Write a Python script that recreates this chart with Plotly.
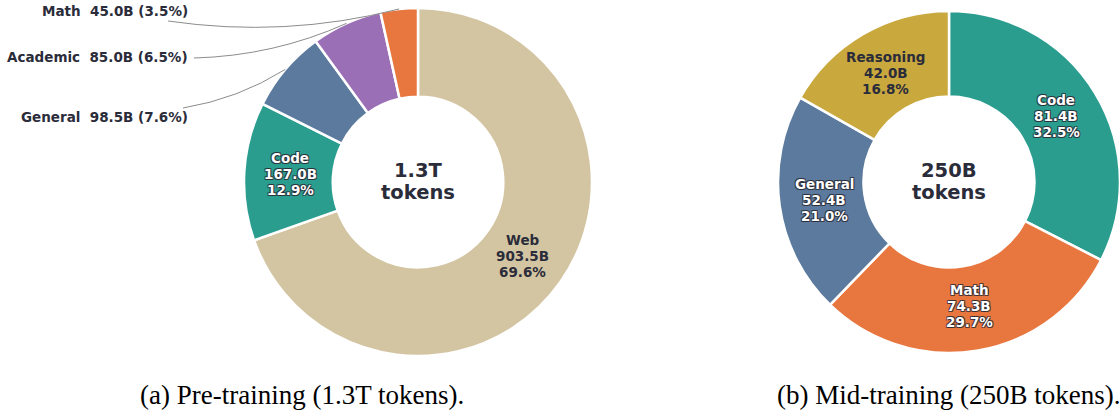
import math
import plotly.graph_objects as go

W, H = 1120, 412

# ---------------- data ----------------
pre_labels = ["Web", "Code", "General", "Academic", "Math"]
pre_values = [903.5, 167.0, 98.5, 85.0, 45.0]
pre_colors = ["#d3c4a2", "#2a9d8f", "#5b7a9d", "#9b6fb5", "#e8763f"]
pre_inside = [True, True, False, False, False]
pre_dark_text = [True, False, False, False, False]
pre_total = "1.3T"

mid_labels = ["Code", "Math", "General", "Reasoning"]
mid_values = [81.4, 74.3, 52.4, 42.0]
mid_colors = ["#2a9d8f", "#e8763f", "#5b7a9d", "#c9a83e"]
mid_inside = [True, True, True, True]
mid_dark_text = [False, False, False, True]
mid_total = "250B"

captions = ["(a) Pre-training (1.3T tokens).", "(b) Mid-training (250B tokens)."]

# ---------------- layout constants (pixels) ----------------
TXT = "#2b2c3a"
FONT = "DejaVu Sans"
OUTLINE = ("1px 1px 0 rgba(40,40,50,0.75), -1px -1px 0 rgba(40,40,50,0.75), "
           "1px -1px 0 rgba(40,40,50,0.75), -1px 1px 0 rgba(40,40,50,0.75)")

pre_center, pre_R = (418, 182), 174
mid_center, mid_R = (949, 182), 171
LABEL_R = 0.736      # inside label radius, fraction of outer radius
LINE_GAP = 16        # px between inside label lines


def domain(center, R):
    cx, cy = center
    return dict(x=[(cx - R) / W, min(1.0, (cx + R) / W)],
                y=[(H - cy - R) / H, (H - cy + R) / H])


def px(x, y):
    return x / W, 1 - y / H


fig = go.Figure()


def add_donut(labels, values, colors, inside, dark, total, center, R, hole):
    fig.add_trace(go.Pie(
        labels=labels, values=values, sort=False, direction="clockwise", rotation=0,
        hole=hole, domain=domain(center, R),
        marker=dict(colors=colors, line=dict(color="white", width=2.5)),
        textinfo="none", showlegend=False, hoverinfo="label+value+percent",
    ))
    tot = sum(values)
    cum = 0.0
    for lab, val, ins, d in zip(labels, values, inside, dark):
        a = (cum + val / 2) / tot * 2 * math.pi
        cum += val
        if not ins:
            continue
        x = center[0] + LABEL_R * R * math.sin(a)
        y = center[1] - LABEL_R * R * math.cos(a)
        lines = [lab, f"{val:.1f}B", f"{val / tot * 100:.1f}%"]
        for i, t in enumerate(lines):
            xx, yy = px(x, y + (i - 1) * LINE_GAP)
            fig.add_annotation(
                x=xx, y=yy, xref="paper", yref="paper", xanchor="center", yanchor="middle",
                showarrow=False, text=t,
                font=dict(family=FONT, size=13.5, weight=700,
                          color=TXT if d else "white", shadow="none" if d else OUTLINE))
    for i, t in enumerate([total, "tokens"]):
        xx, yy = px(center[0], center[1] + (i - 0.5) * 22 - 1)
        fig.add_annotation(x=xx, y=yy, xref="paper", yref="paper", xanchor="center",
                           yanchor="middle", showarrow=False, text=t,
                           font=dict(family=FONT, size=19.5, weight=700, color=TXT))


add_donut(pre_labels, pre_values, pre_colors, pre_inside, pre_dark_text, pre_total,
          pre_center, pre_R, 0.49)
add_donut(mid_labels, mid_values, mid_colors, mid_inside, mid_dark_text,
          mid_total, mid_center, mid_R, 0.5)

# ---------------- outside labels with leader lines (pre-training) ----------------
total = sum(pre_values)
label_right_x = 190
label_y = {"Math": 11, "Academic": 57, "General": 117}
line_start = {"Math": (168, 21), "Academic": (194, 58), "General": (183, 108)}
rad = 0.1

cum = 0.0
for lab, val, ins in zip(pre_labels, pre_values, pre_inside):
    start_frac = cum / total
    cum += val
    if ins:
        continue
    mid_ang = (start_frac + val / total / 2) * 2 * math.pi
    ex = pre_center[0] + pre_R * math.sin(mid_ang)
    ey = pre_center[1] - pre_R * math.cos(mid_ang)
    sx, sy = line_start[lab]
    dx, dy = ex - sx, ey - sy
    cx_, cy_ = (sx + ex) / 2 - rad * dy, (sy + ey) / 2 + rad * dx
    p0, c0, p1 = px(sx, sy), px(cx_, cy_), px(ex, ey)
    fig.add_shape(type="path", xref="paper", yref="paper",
                  path=f"M {p0[0]},{p0[1]} Q {c0[0]},{c0[1]} {p1[0]},{p1[1]}",
                  line=dict(color="#8c8c8c", width=1))
    pct = val / total * 100
    fig.add_annotation(
        x=label_right_x / W, y=1 - label_y[lab] / H, xref="paper", yref="paper",
        xanchor="right", yanchor="middle", showarrow=False,
        text=f"{lab}\u00a0\u00a0{val:.1f}B ({pct:.1f}%)",
        font=dict(family=FONT, size=13.5, weight=700, color=TXT))

# ---------------- captions ----------------
for cap, cxp in zip(captions, [302, 948]):
    fig.add_annotation(x=cxp / W, y=1 - 395 / H, xref="paper", yref="paper",
                       xanchor="center", yanchor="middle", showarrow=False,
                       text=cap, font=dict(family="Liberation Serif", size=27, color="black"))

fig.update_layout(width=W, height=H, margin=dict(l=0, r=0, t=0, b=0),
                  paper_bgcolor="white", plot_bgcolor="white")
fig.write_html("out.html")
